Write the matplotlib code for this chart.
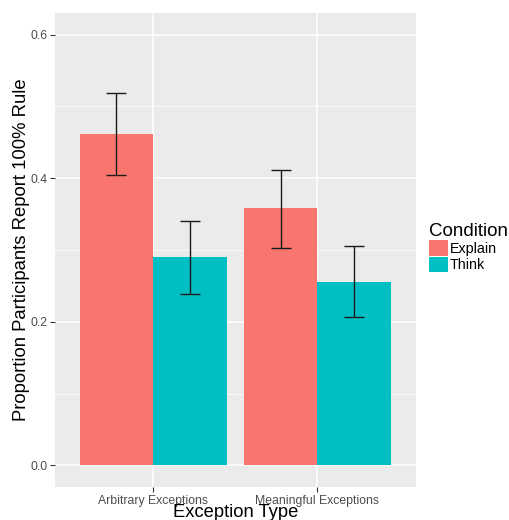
import matplotlib
matplotlib.use("Agg")
import matplotlib.pyplot as plt
import matplotlib.patches as patches
import numpy as np

plt.rcParams['font.family'] = ['Liberation Sans', 'DejaVu Sans']

# data
categories = ["Arbitrary Exceptions", "Meaningful Exceptions"]
conditions = ["Explain", "Think"]
explain_mean = [0.462, 0.358]
explain_low = [0.405, 0.303]
explain_high = [0.518, 0.412]
think_mean = [0.290, 0.255]
think_low = [0.239, 0.206]
think_high = [0.341, 0.305]

C_EXPLAIN = '#F8766D'
C_THINK = '#00BFC4'
BG = '#EBEBEB'

fig = plt.figure(figsize=(5.09, 5.2), dpi=100)
ax = fig.add_axes([0.108, 0.0635, 0.709, 0.9115])
ax.set_facecolor(BG)

x = np.arange(1, len(categories) + 1)
w = 0.45
series = [
    (explain_mean, explain_low, explain_high, C_EXPLAIN, -w / 2),
    (think_mean, think_low, think_high, C_THINK, w / 2),
]
for mean, low, high, col, off in series:
    mean = np.array(mean)
    err = [mean - np.array(low), np.array(high) - mean]
    ax.bar(x + off, mean, width=w, color=col, zorder=2)
    ax.errorbar(x + off, mean, yerr=err, fmt='none', ecolor='#1a1a1a',
                elinewidth=1.0, capsize=7.2, capthick=1.0, zorder=3)

ax.set_xlim(0.4, 2.6)
ax.set_ylim(-0.03, 0.63)
ax.set_xticks(x)
ax.set_xticklabels(categories)
ax.set_yticks([0.0, 0.2, 0.4, 0.6])
ax.set_yticklabels(["0.0", "0.2", "0.4", "0.6"])
ax.set_yticks([0.1, 0.3, 0.5], minor=True)

ax.grid(which='major', color='white', linewidth=1.1, zorder=0)
ax.grid(which='minor', axis='y', color='white', linewidth=0.55, zorder=0)
ax.set_axisbelow(True)
for s in ax.spines.values():
    s.set_visible(False)
ax.tick_params(axis='both', which='major', length=3.5, width=0.8, color='#333333',
               labelcolor='#4D4D4D', labelsize=8.8, pad=2)
ax.tick_params(axis='y', which='minor', length=0)

ax.set_xlabel("Exception Type", fontsize=13.2, labelpad=-2)
ax.set_ylabel("Proportion Participants Report 100% Rule", fontsize=13.3, labelpad=0)

# legend
handles = [patches.Patch(facecolor=C_EXPLAIN, edgecolor='none'),
           patches.Patch(facecolor=C_THINK, edgecolor='none')]
leg = fig.legend(handles, conditions, loc='upper left', bbox_to_anchor=(0.843, 0.572),
                 frameon=False, title="Condition", title_fontsize=13.5, fontsize=10.3,
                 handlelength=1.3, handleheight=1.3, handletextpad=0.15,
                 labelspacing=0.05, borderaxespad=0, borderpad=0)
leg._legend_box.align = "left"

fig.savefig("out.png", dpi=100)
